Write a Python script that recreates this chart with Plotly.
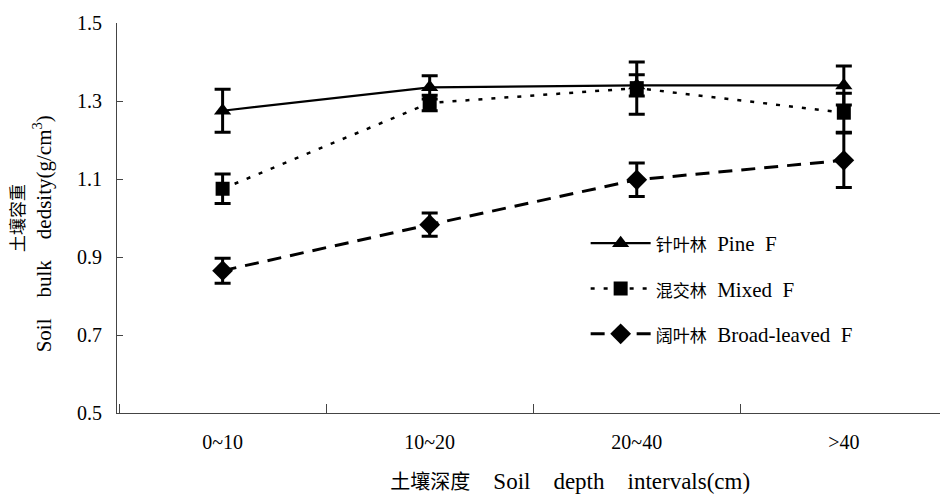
import plotly.graph_objects as go

depths = ["0~10", "10~20", "20~40", ">40"]
pine = [1.275, 1.335, 1.34, 1.34]
pine_err = [0.055, 0.03, 0.027, 0.05]
mixed = [1.075, 1.295, 1.333, 1.27]
mixed_err = [0.038, 0.02, 0.067, 0.05]
broad = [0.865, 0.983, 1.098, 1.148]
broad_err = [0.032, 0.03, 0.043, 0.07]
y_ticks = [0.5, 0.7, 0.9, 1.1, 1.3, 1.5]

SP = "\u2002"
EM = "\u2003"
ZW = "\u200b"
def cj(t, s=17):
    return f'<span style="font-size:{s}px">{t}</span>'

names = [cj("针叶林") + SP + "Pine" + SP + "F",
         cj("混交林") + SP + "Mixed" + SP + "F",
         cj("阔叶林") + SP + "Broad-leaved" + SP + "F"]
FONT = "Liberation Serif, Noto Sans CJK SC, serif"

fig = go.Figure()
series = [
    (pine, pine_err, names[0], "solid", 2.2, "triangle-up", 15),
    (mixed, mixed_err, names[1], "4px,9px", 2.5, "square", 14),
    (broad, broad_err, names[2], "14px,9px", 3, "diamond", 16),
]
for i, (vals, errs, name, dash, lw, sym, ms) in enumerate(series):
    fig.add_trace(go.Scatter(
        x=depths, y=vals, name=name, mode="lines+markers",
        line=dict(color="black", width=lw, dash=dash),
        marker=dict(symbol=sym, size=ms, color="black"),
        error_y=dict(type="data", array=errs, visible=True, color="black",
                     thickness=3, width=8),
        legendgroup=f"g{i}",
    ))

fig.update_layout(
    width=958, height=497,
    margin=dict(l=109, r=0, t=15, b=92),
    paper_bgcolor="white", plot_bgcolor="white",
    font=dict(family=FONT, size=19, color="black"),
    legend=dict(x=0.552, y=0.487, xanchor="left", yanchor="top",
                traceorder="grouped", tracegroupgap=15,
                font=dict(family=FONT, size=21, color="black"),
                bgcolor="rgba(0,0,0,0)", itemwidth=60),
)
fig.update_xaxes(
    type="category", range=[-0.51, 3.59], showline=True, linecolor="#444",
    linewidth=1, ticks="inside", ticklen=9, tickcolor="#444", tickson="boundaries",
    showgrid=False, zeroline=False, ticklabelstandoff=11,
    tickfont=dict(family=FONT, size=20),
    title=dict(text=ZW + SP * 5 + cj("土壤深度", 20) + EM + "Soil" + EM + "depth" + EM + "intervals(cm)",
               font=dict(family=FONT, size=23), standoff=20),
)
fig.update_yaxes(
    range=[0.5, 1.5], tickvals=y_ticks, ticktext=[f"{v:.1f}" for v in y_ticks],
    showline=True, linecolor="#444", linewidth=1, ticks="inside", ticklen=6,
    tickcolor="#444", showgrid=False, zeroline=False, ticklabelstandoff=10,
    tickfont=dict(family=FONT, size=20),
    title=dict(text=cj("土壤容重") + "<br>Soil" + EM + "bulk" + EM + "dedsity(g/cm<sup>3</sup>)" + EM + SP + ZW,
               font=dict(family=FONT, size=21), standoff=19),
)
fig.write_html("out.html")
